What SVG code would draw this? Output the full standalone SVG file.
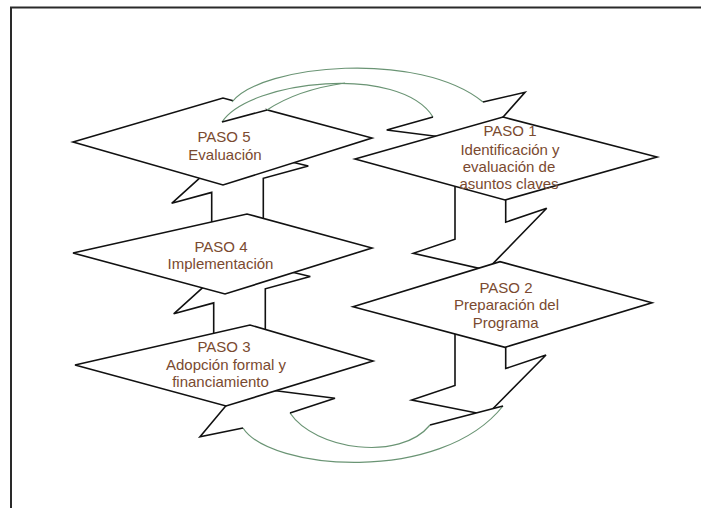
<svg xmlns="http://www.w3.org/2000/svg" width="701" height="508" viewBox="0 0 701 508">
<style>
.frame{stroke:#2a2a2a;stroke-width:2;fill:none}
.shape{fill:#fff;stroke:#111;stroke-width:1.6;stroke-linejoin:miter}
.fill{fill:#fff;stroke:none}
.edge{fill:none;stroke:#111;stroke-width:1.6}
.arc{fill:none;stroke:#6a9474;stroke-width:1.2}
.lbl{font-family:"Liberation Sans",Arial,sans-serif;font-size:15px;fill:#7a4a30;text-anchor:middle}
</style>
<rect width="701" height="508" fill="#fff"/>
<path class="frame" d="M11,508 V7.5 H701"/>
<g id="connectors">
  <polygon id="arrow-4-5" class="shape" points="211.7,240 211.7,192.4 171.7,203.3 233,148 308.3,166 263.3,178.3 263.3,240"/>
  <polygon id="arrow-3-4" class="shape" points="213.7,350 213.7,302.9 173.7,313.8 235,258.5 310.3,276.5 265.3,288.8 265.3,350"/>
  <polygon id="arrow-1-2" class="shape" points="455,170 455,239.2 413.3,253.3 486.7,270 546.7,208.3 505.7,222.2 505.7,170"/>
  <polygon id="arrow-2-out" class="shape" points="455,320 455,385.5 411.7,400 486.7,415 546,355 505.7,368.5 505.7,320"/>
</g>
<g id="paso5">
  <polygon class="shape" points="73,142 223,98 372,138 223,185"/>
  <text class="lbl" x="224" y="142">PASO 5</text>
  <text class="lbl" x="225" y="159.5">Evaluación</text>
</g>
<g id="curve-top">
  <path class="fill" d="M222,122 C250,80 400,64 433,117 L386.7,130 L481,142 L525,92.3 L483,102 C420,50 262,64 232,102 Z"/>
  <polygon class="fill" points="222,122 267,110 255,98 232,101"/>
  <path class="arc" d="M232,102 C262,64 420,50 483,102"/>
  <path class="arc" d="M222,122 C250,80 400,64 433,117"/>
  <path class="arc" d="M267,110 C285,98 310,88 345,83"/>
  <path class="edge" d="M222,122 L267,110"/>
  <path class="edge" d="M433,117 L386.7,130 L481,142 L525,92.3 L483,102"/>
</g>
<g id="paso1">
  <polygon class="shape" points="355,159 503,117 657,157 505,200"/>
  <text class="lbl" x="510" y="136.3">PASO 1</text>
  <text class="lbl" x="510" y="154.6">Identificación y</text>
  <text class="lbl" x="509" y="172">evaluación de</text>
  <text class="lbl" x="509" y="188.6">asuntos claves</text>
</g>
<g id="paso4">
  <polygon class="shape" points="73,253 247,214 372,248 225,294"/>
  <text class="lbl" x="221" y="252">PASO 4</text>
  <text class="lbl" x="220.5" y="268.6">Implementación</text>
</g>
<g id="curve-bottom">
  <path class="fill" d="M243,428 C270,470 440,485 503,406 L430,425 C400,462 315,450 290,413 L335,398.3 L242,386.5 L200,436.7 Z"/>
  <path class="arc" d="M243,428 C270,470 440,485 503,406"/>
  <path class="arc" d="M290,413 C315,450 400,462 430,425"/>
  <path class="edge" d="M430,425 L503,406"/>
  <path class="edge" d="M290,413 L335,398.3 L242,386.5 L200,436.7 L243,428"/>
</g>
<g id="paso3">
  <polygon class="shape" points="75,365 250,325 373,361 226,406"/>
  <text class="lbl" x="224" y="352">PASO 3</text>
  <text class="lbl" x="226" y="369.6">Adopción formal y</text>
  <text class="lbl" x="220.5" y="387">financiamiento</text>
</g>
<g id="paso2">
  <polygon class="shape" points="353,306.7 500,261.7 652,302.7 505,347.3"/>
  <text class="lbl" x="506" y="292.6">PASO 2</text>
  <text class="lbl" x="506.5" y="310.3">Preparación del</text>
  <text class="lbl" x="505.7" y="328">Programa</text>
</g>
</svg>
